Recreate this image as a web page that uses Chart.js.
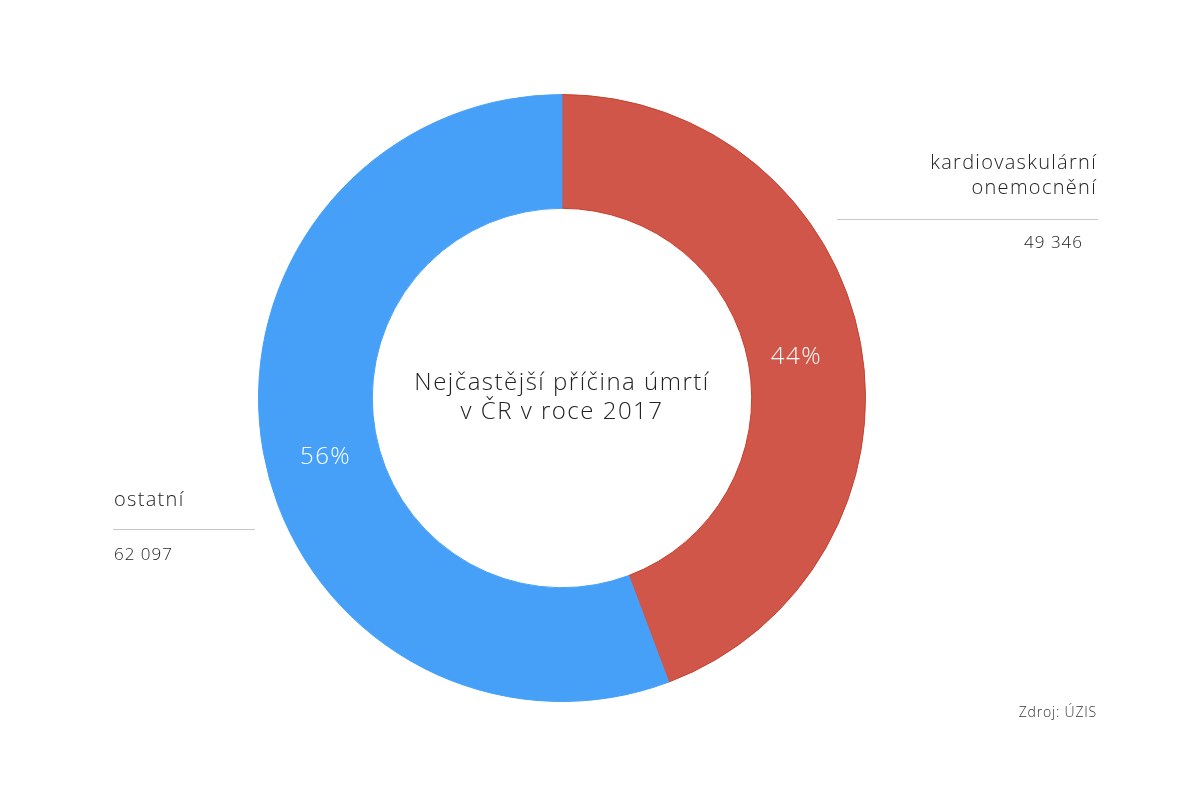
<!DOCTYPE html>
<html>
<head>
<meta charset="utf-8">
<script src="https://cdn.jsdelivr.net/npm/chart.js@4"></script>
<style>
  html, body { margin: 0; padding: 0; background: #fff; }
  #wrap { width: 1200px; height: 800px; }
</style>
</head>
<body>
<div id="wrap"><canvas id="donut" width="1200" height="800"></canvas></div>
<script>
const categories = ['kardiovaskulární onemocnění', 'ostatní'];
const deaths = [49346, 62097];
const colors = ['#cf5648', '#47a0f7'];
const centerTitle = ['Nejčastější příčina úmrtí', 'v ČR v roce 2017'];
const source = 'Zdroj: ÚZIS';

const FONT = '"Open Sans", Lato, sans-serif';

function fmt(n) {
    return String(n).replace(/\B(?=(\d{3})+(?!\d))/g, ' ');
}

// text with a bit of extra tracking, the original font runs wide
function spaced(ctx, txt, x, y, px) {
    ctx.letterSpacing = px + 'px';
    ctx.fillText(txt, x, y);
    ctx.letterSpacing = '0px';
}

// labels, percentages and centre title
const textPlugin = {
    id: 'texts',
    afterDraw(chart) {
        const ctx = chart.ctx;
        const meta = chart.getDatasetMeta(0);
        const total = deaths.reduce((a, b) => a + b, 0);
        ctx.save();

        // percentages inside the ring
        ctx.fillStyle = '#fff';
        ctx.font = '300 24px ' + FONT;
        ctx.textAlign = 'center';
        ctx.textBaseline = 'middle';
        meta.data.forEach((arc, i) => {
            const p = arc.getProps(['x', 'y', 'startAngle', 'endAngle', 'innerRadius', 'outerRadius']);
            const mid = (p.startAngle + p.endAngle) / 2 + (i === 1 ? -0.07 : 0.01);
            const r = p.innerRadius + (p.outerRadius - p.innerRadius) * 0.45;
            const pct = Math.round(deaths[i] / total * 100) + '%';
            spaced(ctx, pct, p.x + Math.cos(mid) * r - 3, p.y + Math.sin(mid) * r, 1.5);
        });

        // centre title
        const c = meta.data[0];
        ctx.fillStyle = '#222';
        ctx.font = '300 24px ' + FONT;
        spaced(ctx, centerTitle[0], c.x, c.y - 15, 1.5);
        spaced(ctx, centerTitle[1], c.x, c.y + 14, 1.5);

        // right label
        ctx.textAlign = 'right';
        ctx.font = '300 20px ' + FONT;
        const words = categories[0].split(' ');
        spaced(ctx, words[0], 1097, 163, 1.3);
        spaced(ctx, words[1], 1097, 188, 1.3);
        ctx.font = '300 17px ' + FONT;
        spaced(ctx, fmt(deaths[0]), 1083, 243, 1);

        // left label
        ctx.textAlign = 'left';
        ctx.font = '300 20px ' + FONT;
        spaced(ctx, categories[1], 114, 500, 1.3);
        ctx.font = '300 17px ' + FONT;
        spaced(ctx, fmt(deaths[1]), 114, 555, 1);

        // separator lines
        ctx.strokeStyle = '#c8c8c8';
        ctx.lineWidth = 1;
        ctx.beginPath();
        ctx.moveTo(837, 219.5); ctx.lineTo(1098, 219.5);
        ctx.moveTo(113, 529.5); ctx.lineTo(255, 529.5);
        ctx.stroke();

        // source
        ctx.fillStyle = '#333';
        ctx.textAlign = 'right';
        ctx.font = '300 14px ' + FONT;
        spaced(ctx, source, 1097, 713, 0.8);
        ctx.restore();
    }
};

const donut = new Chart(document.getElementById('donut').getContext('2d'), {
    type: 'doughnut',
    data: {
        labels: categories,
        datasets: [{
            data: deaths,
            backgroundColor: colors,
            borderColor: ['#c9402f', '#47a0f7'],
            borderWidth: 1,
            hoverOffset: 0
        }]
    },
    options: {
        responsive: false,
        animation: false,
        cutout: '62.5%',
        layout: { padding: { left: 257, right: 333, top: 94, bottom: 98 } },
        plugins: {
            legend: { display: false },
            tooltip: { enabled: false }
        }
    },
    plugins: [textPlugin]
});
</script>
</body>
</html>
